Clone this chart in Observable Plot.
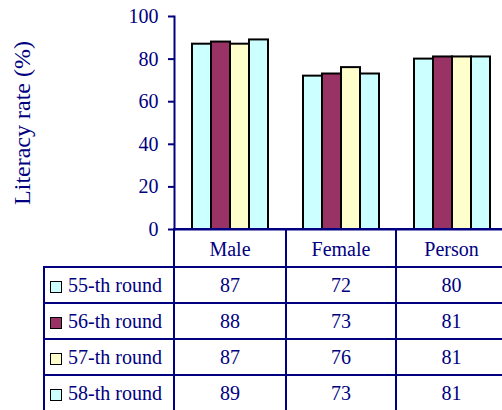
<!DOCTYPE html>
<html>
<head>
<meta charset="utf-8">
<script src="https://cdn.jsdelivr.net/npm/d3@7"></script>
<script src="https://cdn.jsdelivr.net/npm/@observablehq/plot@0.6"></script>
<style>
  html, body { margin: 0; padding: 0; overflow: hidden; background: #fff; }
  #wrap { position: relative; width: 502px; height: 410px; overflow: hidden; }
  #chart { position: absolute; left: 0; top: 0; width: 520px; }
  #chart svg { max-width: none !important; overflow: visible !important; }
  #chart text { font-family: "Liberation Serif", "Times New Roman", Times, serif; }
  #tbl { position: absolute; left: 43px; top: 228px; width: 464px; border-collapse: collapse; table-layout: fixed;
         font-family: "Liberation Serif", "Times New Roman", Times, serif; font-size: 20px; color: #000080; }
  #tbl td { border: 2px solid #000080; padding: 0; text-align: center; vertical-align: middle; white-space: nowrap; }
  #tbl tr.hdr td { height: 34px; padding-top: 2px; }
  #tbl tr.row td { height: 33px; padding-top: 1px; }
  #tbl td.corner { border-top: none; border-left: none; }
  #tbl td.lab { text-align: left; padding-left: 5px; }
  .sw { display: inline-block; width: 10px; height: 10px; border: 1.5px solid #000; margin-right: 6px; vertical-align: -1px; }
</style>
</head>
<body>
<div id="wrap">
  <div id="chart"></div>
  <table id="tbl"></table>
</div>
<script>
const categories = ["Male", "Female", "Person"];
const rounds = ["55-th round", "56-th round", "57-th round", "58-th round"];
const roundColors = ["#CCFFFF", "#993366", "#FFFFCC", "#CCFFFF"];
const maleValues = [87, 88, 87, 89];
const femaleValues = [72, 73, 76, 73];
const personValues = [80, 81, 81, 81];
const yTicks = [0, 20, 40, 60, 80, 100];

const navy = "#000080";
const serif = "Liberation Serif, Times New Roman, Times, serif";
const seriesByCategory = [maleValues, femaleValues, personValues];
const data = [];
categories.forEach((c, ci) => rounds.forEach((r, ri) => data.push({category: c, round: r, ri, value: seriesByCategory[ci][ri]})));

const chart = Plot.plot({
  width: 508,
  height: 232,
  marginLeft: 173,
  marginRight: 1,
  marginTop: 16,
  marginBottom: 3,
  style: {fontFamily: serif, color: navy, background: "transparent", maxWidth: "none", overflow: "visible"},
  fx: {domain: categories, padding: 0, axis: null},
  x: {domain: rounds, paddingInner: 0, paddingOuter: 0.783, axis: null},
  y: {domain: [0, 100]},
  marks: [
    Plot.barY(data, {fx: "category", x: "round", y: "value",
      fill: d => roundColors[d.ri], stroke: "#000", strokeWidth: 2}),
    Plot.ruleY([0], {stroke: navy, strokeWidth: 2}),
    Plot.frame({anchor: "left", facetAnchor: "left", stroke: navy, strokeWidth: 2}),
    Plot.axisY({ticks: yTicks, tickSize: 6, tickPadding: 10, fontSize: 20, fontFamily: serif, stroke: navy, strokeWidth: 2,
      fill: navy, tickFormat: d => d, label: "Literacy rate (%)", labelAnchor: "center", labelArrow: "none",
      labelOffset: 162})
  ]
});
document.getElementById("chart").appendChild(chart);
chart.querySelectorAll("g[aria-label='y-axis label'] text").forEach(t => t.setAttribute("font-size", 24));

// Data table below the chart
const tbl = d3.select("#tbl");
const colgroup = tbl.append("colgroup");
[130, 112, 110, 111].forEach(w => colgroup.append("col").style("width", w + "px"));
const hdr = tbl.append("tr").attr("class", "hdr");
hdr.append("td").attr("class", "corner");
categories.forEach(c => hdr.append("td").text(c));
rounds.forEach((r, ri) => {
  const tr = tbl.append("tr").attr("class", "row");
  const lab = tr.append("td").attr("class", "lab");
  lab.append("span").attr("class", "sw").style("background", roundColors[ri]);
  lab.append("span").text(r);
  seriesByCategory.forEach(vals => tr.append("td").text(vals[ri]));
});
</script>
</body>
</html>
